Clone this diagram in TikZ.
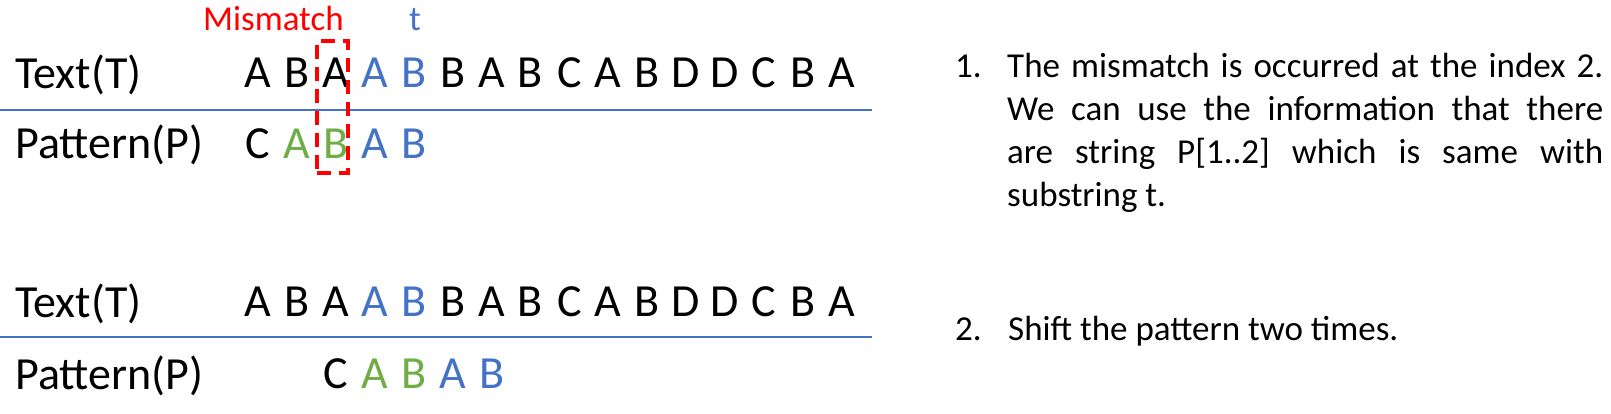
\documentclass[tikz,border=0pt]{standalone}
\usepackage{fontspec}
\setmainfont{Carlito}
\usepackage{xcolor}
\definecolor{accblue}{RGB}{68,114,196}
\definecolor{accgreen}{RGB}{112,173,71}
\newcommand{\lbox}[2][black]{\makebox[38.9pt]{\textcolor{#1}{#2}}}
\tolerance=9999
\hyphenpenalty=10000

\begin{document}
\begin{tikzpicture}[x=1pt,y=-1pt,
    tag/.style={anchor=base west,inner sep=0pt,font=\fontsize{46}{55}\selectfont},
    note/.style={anchor=base west,inner sep=0pt,font=\fontsize{35}{43}\selectfont},
    rule/.style={draw=accblue,line width=1.2pt},
    missbox/.style={rectangle,draw=red,line width=4pt,dash pattern=on 14pt off 8pt,minimum width=31pt,minimum height=132pt,inner sep=0pt}]
    \useasboundingbox (0,0) rectangle (1611,413);
    %first try
    \node[note,text=red] at (203,30) (miss) {Mismatch};
    \node[note,anchor=base,text=accblue] at (415,30) (sub) {t};
    \node[tag] at (15,88) (text1) {Text(T)};
    \node[tag] at (238.5,87) (row1) {\lbox{A}\lbox{B}\lbox{A}\lbox[accblue]{A}\lbox[accblue]{B}\lbox{B}\lbox{A}\lbox{B}\lbox{C}\lbox{A}\lbox{B}\lbox{D}\lbox{D}\lbox{C}\lbox{B}\lbox{A}};
    \coordinate (l1a) at (0,110);
    \coordinate (l1b) at (872,110);
    \draw[rule] (l1a) -- (l1b);
    \node[tag] at (15,158) (pat1) {Pattern(P)};
    \node[tag] at (238.5,158) (row2) {\lbox{C}\lbox[accgreen]{A}\lbox[accgreen]{B}\lbox[accblue]{A}\lbox[accblue]{B}};
    \node[missbox] at (332,107) (box) {};
    %after the shift
    \node[tag] at (15,317) (text2) {Text(T)};
    \node[tag] at (238.5,316) (row3) {\lbox{A}\lbox{B}\lbox{A}\lbox[accblue]{A}\lbox[accblue]{B}\lbox{B}\lbox{A}\lbox{B}\lbox{C}\lbox{A}\lbox{B}\lbox{D}\lbox{D}\lbox{C}\lbox{B}\lbox{A}};
    \coordinate (l2a) at (0,337);
    \coordinate (l2b) at (872,337);
    \draw[rule] (l2a) -- (l2b);
    \node[tag] at (15,389) (pat2) {Pattern(P)};
    \node[tag] at (316.3,388) (row4) {\lbox{C}\lbox[accgreen]{A}\lbox[accgreen]{B}\lbox[accblue]{A}\lbox[accblue]{B}};
    %notes
    \node[note] at (955,77) (n1) {1.};
    \node[note,text width=596pt,align=justify] at (1007,77) (s1) {The mismatch is occurred at the index 2.\linebreak We can use the information that there\linebreak are string P[1..2] which is same with\linebreak substring t.};
    \node[note] at (955,340) (n2) {2.};
    \node[note] at (1008,340) (s2) {Shift the pattern two times.};
\end{tikzpicture}
\end{document}
